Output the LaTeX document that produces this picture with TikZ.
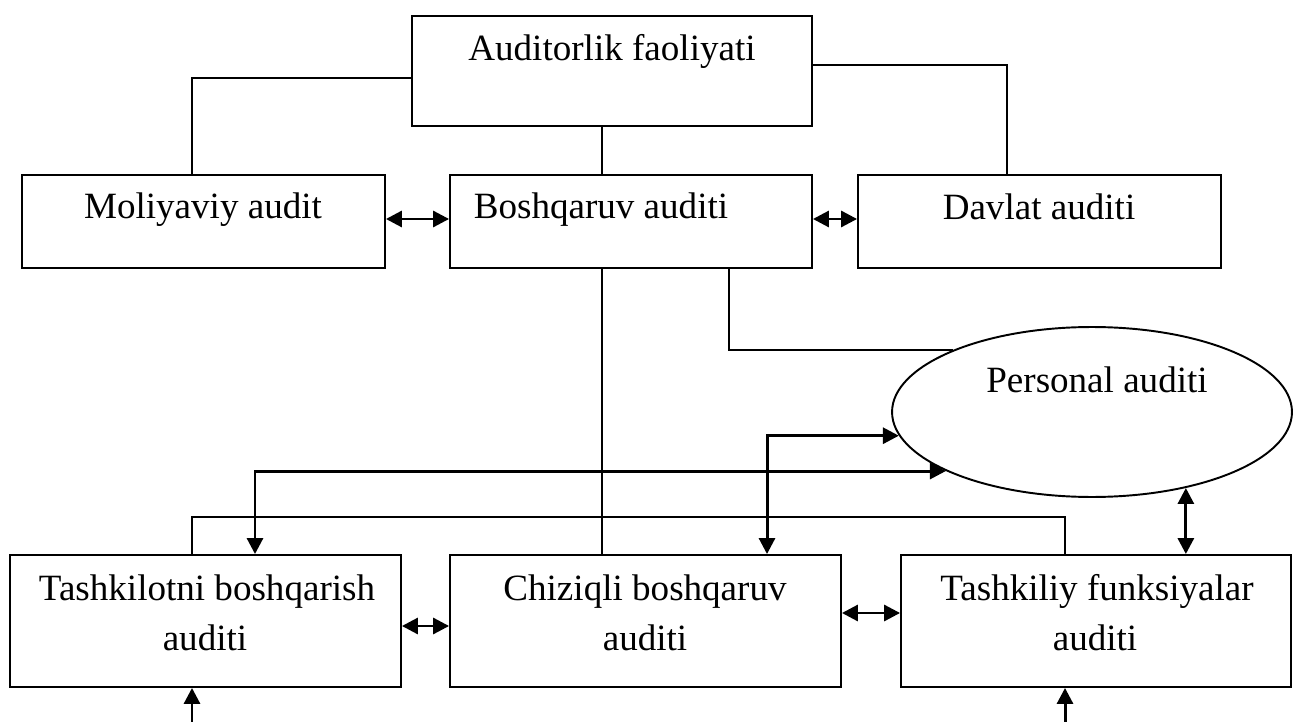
\documentclass[tikz,border=0pt]{standalone}
\usepackage{fontspec}
\setmainfont{Liberation Serif}
\usetikzlibrary{arrows.meta,shapes.geometric}
\begin{document}
\begin{tikzpicture}[x=0.02cm,y=-0.02cm,
  box/.style={draw,line width=1.1pt,rectangle,inner sep=0pt},
  lbl/.style={anchor=base,inner sep=0pt,font=\fontsize{21.1}{28}\selectfont},
  conn/.style={line width=1.1pt},
  arr/.style={line width=1.7pt,{Triangle[length=0.32cm,width=0.32cm]}-{Triangle[length=0.32cm,width=0.32cm]}},
  uarr/.style={line width=1.7pt,-{Triangle[length=0.32cm,width=0.32cm]}}]
\useasboundingbox (0,0) rectangle (1293,722);
% boxes
\node[box,minimum width=8cm,minimum height=2.2cm] (top) at (612,71) {};
\node[box,minimum width=7.26cm,minimum height=1.86cm] (mol) at (203.5,221.5) {};
\node[box,minimum width=7.24cm,minimum height=1.86cm] (bos) at (631,221.5) {};
\node[box,minimum width=7.26cm,minimum height=1.86cm] (dav) at (1039.5,221.5) {};
\node[box,minimum width=7.82cm,minimum height=2.64cm] (tas) at (205.5,621) {};
\node[box,minimum width=7.82cm,minimum height=2.64cm] (chz) at (645.5,621) {};
\node[box,minimum width=7.8cm,minimum height=2.64cm] (tf) at (1096,621) {};
\node[draw,ellipse,line width=1.1pt,minimum width=8cm,minimum height=3.4cm,inner sep=0pt] (pers) at (1092,412) {};
% labels
\node[lbl] (tTop) at (612,61) {Auditorlik faoliyati};
\node[lbl] (tMol) at (203,219) {Moliyaviy audit};
\node[lbl] (tBos) at (601,219) {Boshqaruv auditi};
\node[lbl] (tDav) at (1039,220) {Davlat auditi};
\node[lbl] (tPers) at (1097,392) {Personal auditi};
\node[lbl] (tTas1) at (207,600) {Tashkilotni boshqarish};
\node[lbl] (tTas2) at (205,650) {auditi};
\node[lbl] (tChz1) at (645,600) {Chiziqli boshqaruv};
\node[lbl] (tChz2) at (645,650) {auditi};
\node[lbl] (tTf1) at (1097,600) {Tashkiliy funksiyalar};
\node[lbl] (tTf2) at (1095,650) {auditi};
% helper coordinates
\coordinate (yL) at (0,78);
\coordinate (yR) at (0,65);
\coordinate (y219) at (0,219);
\coordinate (y517) at (0,517);
\coordinate (y626) at (0,626);
\coordinate (y613) at (0,613);
\coordinate (x192) at (192,0);
\coordinate (x255) at (255,0);
\coordinate (x602) at (602,0);
\coordinate (x729) at (729,0);
\coordinate (x767) at (767,0);
\coordinate (x1007) at (1007,0);
\coordinate (x1065) at (1065,0);
\coordinate (b1) at (192,722);
\coordinate (b2) at (1065,722);
% connectors
\draw[conn] (top.west |- yL) -| (mol.north -| x192);
\draw[conn] (top.east |- yR) -| (dav.north -| x1007);
\draw[conn] (top.south -| x602) -- (bos.north -| x602);
\draw[conn] (bos.south -| x602) -- (chz.north -| x602);
\draw[conn] (bos.south -| x729) |- (pers.156);
\draw[arr] (chz.north -| x767) |- (pers.187);
\draw[arr] (tas.north -| x255) |- (pers.202);
\draw[conn] (tas.north -| x192) |- (y517 -| x1065) -- (tf.north -| x1065);
\draw[arr] (pers.321) -- (pers.321 |- tf.north);
\draw[arr] (mol.east |- y219) -- (bos.west |- y219);
\draw[arr] (bos.east |- y219) -- (dav.west |- y219);
\draw[arr] (tas.east |- y626) -- (chz.west |- y626);
\draw[arr] (chz.east |- y613) -- (tf.west |- y613);
\draw[uarr] (b1) -- (tas.south -| b1);
\draw[uarr] (b2) -- (tf.south -| b2);
\end{tikzpicture}
\end{document}
